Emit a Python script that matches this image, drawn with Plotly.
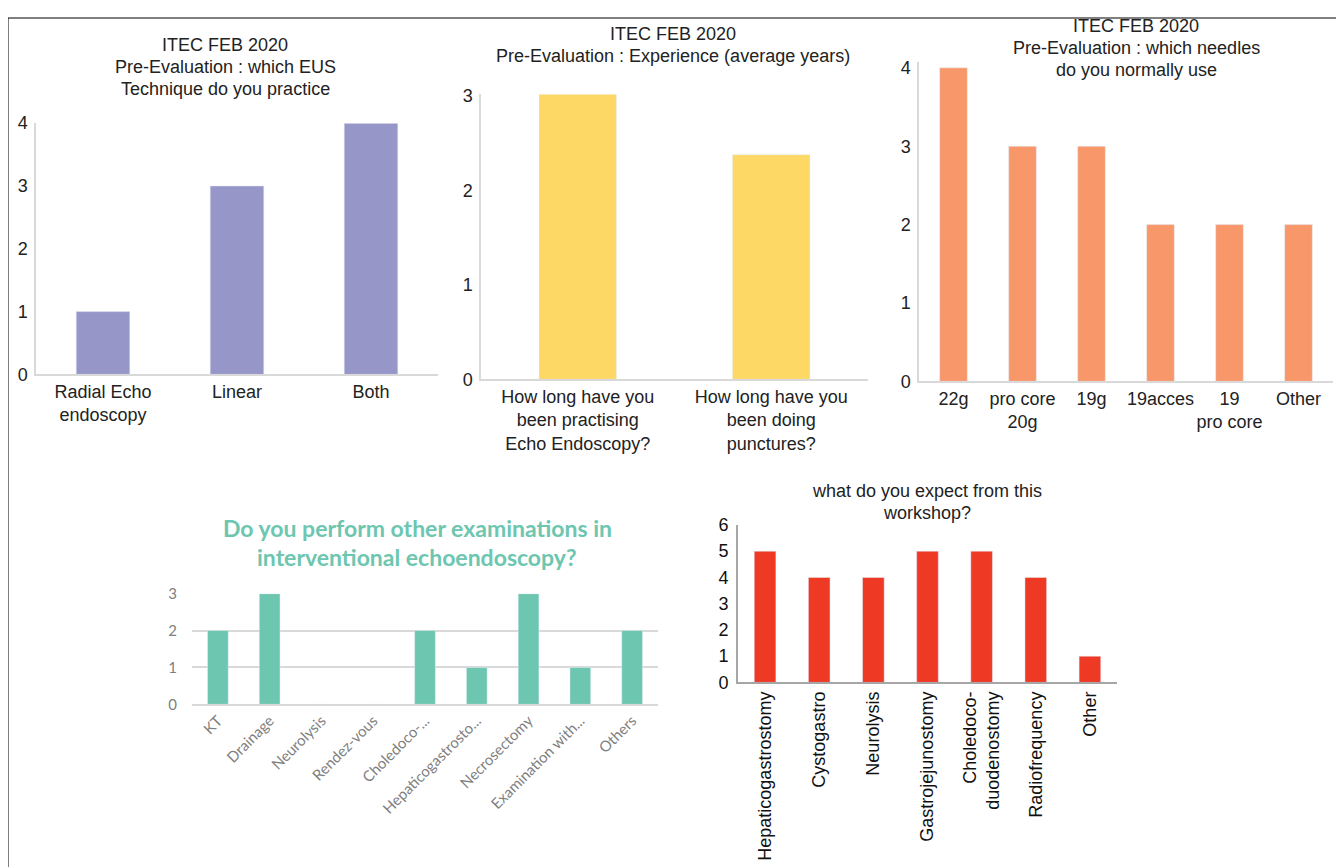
import plotly.graph_objects as go

# ---------------- data ----------------
tech_cats = ["Radial Echo<br>endoscopy", "Linear", "Both"]
tech_vals = [1, 3, 4]

exp_cats = ["How long have you<br>been practising<br>Echo Endoscopy?",
            "How long have you<br>been doing<br>punctures?"]
exp_vals = [3.02, 2.38]

needle_cats = ["22g", "pro core<br>20g", "19g", "19acces", "19<br>pro core", "Other"]
needle_vals = [4, 3, 3, 2, 2, 2]

exam_cats = ["KT", "Drainage", "Neurolysis", "Rendez-vous", "Choledoco-...",
             "Hepaticogastrosto...", "Necrosectomy", "Examination with...", "Others"]
exam_vals = [2, 3, 0, 0, 2, 1, 3, 1, 2]

expect_cats = ["Hepaticogastrostomy", "Cystogastro", "Neurolysis", "Gastrojejunostomy",
               "Choledoco-<br>duodenostomy", "Radiofrequency", "Other"]
expect_vals = [5, 4, 4, 5, 5, 4, 1]

titles = [
    (["ITEC FEB 2020", "Pre-Evaluation : which EUS", "Technique do you practice"], 225, 44),
    (["ITEC FEB 2020", "Pre-Evaluation : Experience (average years)"], 673, 33),
    (["ITEC FEB 2020", "Pre-Evaluation : which needles", "do you normally use"], 1136, 25),
    (["what do you expect from this", "workshop?"], 927, 491),
]
exam_title = ["Do you perform other examinations in", "interventional echoendoscopy?"]

# ---------------- page geometry ----------------
M = 8                 # body margin of the html page
W, H = 1328, 867      # figure size
Y0, SY = 16.5, 0.98   # observed vertical mapping of the photographed page

def px_x(x):
    return (x - M) / W

def px_y(y):
    return 1 - ((y - Y0) / SY) / H

ARIAL = "Arial, Liberation Sans, sans-serif"
CAL = "Lato, Carlito, sans-serif"

fig = go.Figure()

fig.add_trace(go.Bar(x=tech_cats, y=tech_vals, marker_color="#9696C8", width=0.4,
                     xaxis="x", yaxis="y", showlegend=False))
fig.add_trace(go.Bar(x=exp_cats, y=exp_vals, marker_color="#FDD865", width=0.4,
                     xaxis="x2", yaxis="y2", showlegend=False))
fig.add_trace(go.Bar(x=needle_cats, y=needle_vals, marker_color="#F7976A", width=0.4,
                     xaxis="x3", yaxis="y3", showlegend=False))
fig.add_trace(go.Bar(x=exam_cats, y=exam_vals, marker_color="#6DC6B0", width=0.4,
                     xaxis="x4", yaxis="y4", showlegend=False))
fig.add_trace(go.Bar(x=expect_cats, y=expect_vals, marker_color="#EE3A24", width=0.4,
                     xaxis="x5", yaxis="y5", showlegend=False))

def light_x(dom, anchor, size=18, color="#222222", linecolor="#D9D9D9", lw=1.5, angle=0):
    return dict(domain=dom, anchor=anchor, showline=True, linecolor=linecolor, linewidth=lw,
                showgrid=False, zeroline=False, ticks="", tickangle=angle,
                tickfont=dict(family=ARIAL, size=size, color=color), fixedrange=True)

def light_y(dom, anchor, rng, size=18, color="#222222", linecolor="#D9D9D9", lw=1.5,
            dtick=1, ticklen=3):
    return dict(domain=dom, anchor=anchor, range=rng, showline=True, linecolor=linecolor,
                linewidth=lw, showgrid=False, zeroline=False, dtick=dtick,
                ticks="outside", ticklen=ticklen, tickcolor="rgba(0,0,0,0)",
                tickfont=dict(family=ARIAL, size=size, color=color), fixedrange=True)

layout = dict(
    width=W, height=H, margin=dict(l=0, r=0, t=0, b=0),
    paper_bgcolor="white", plot_bgcolor="white", bargap=0.6,
)

# chart 1
layout["xaxis"] = light_x([px_x(36), px_x(438)], "y")
layout["yaxis"] = light_y([px_y(374), px_y(122)], "x", [0, 4])
# chart 2
layout["xaxis2"] = light_x([px_x(481), px_x(868)], "y2")
layout["yaxis2"] = light_y([px_y(379), px_y(93)], "x2", [0, 3.02])
# chart 3
layout["xaxis3"] = light_x([px_x(919), px_x(1333)], "y3")
layout["yaxis3"] = light_y([px_y(381), px_y(61)], "x3", [0, 4.07])
# chart 4 (Excel style)
layout["xaxis4"] = dict(domain=[px_x(192), px_x(658)], anchor="y4", showline=True,
                        linecolor="#D9D9D9", linewidth=1.5, showgrid=False, zeroline=False,
                        tickangle=-45, ticks="", tickfont=dict(family=CAL, size=15, color="#7F7F7F"),
                        fixedrange=True)
layout["yaxis4"] = dict(domain=[px_y(705), px_y(594)], anchor="x4", range=[0, 3], dtick=1,
                        showline=False, showgrid=True, gridcolor="#D9D9D9", gridwidth=1.5,
                        zeroline=False, ticks="outside", ticklen=11, tickcolor="rgba(0,0,0,0)",
                        tickfont=dict(family=CAL, size=15, color="#7F7F7F"), fixedrange=True)
# chart 5
layout["xaxis5"] = light_x([px_x(738), px_x(1117)], "y5", linecolor="#A6A6A6", lw=2,
                           color="#111111", angle=-90)
layout["yaxis5"] = light_y([px_y(683), px_y(525)], "x5", [0, 6], linecolor="#A6A6A6", lw=2,
                           color="#111111", ticklen=4)

fig.update_layout(**layout)

# titles: one annotation per line, centred on the measured line position
def title(lines, x, y0, step=22, size=18, color="#222222", family=ARIAL, bold=False):
    for i, line in enumerate(lines):
        txt = f"<b>{line}</b>" if bold else line
        fig.add_annotation(text=txt, x=px_x(x), y=px_y(y0 + i * step), xref="paper", yref="paper",
                           showarrow=False, xanchor="center", yanchor="middle",
                           font=dict(family=family, size=size, color=color))

for lines, x, y0 in titles:
    title(lines, x, y0)
title(exam_title, 417, 528, step=29, size=23, color="#6DC6B0", family=CAL, bold=True)

# outer border (top, left, right; bottom is outside the picture)
fig.add_shape(type="rect", xref="paper", yref="paper",
              x0=px_x(8), x1=px_x(1342), y0=-0.05, y1=1,
              line=dict(color="black", width=1))

fig.write_html("out.html")
